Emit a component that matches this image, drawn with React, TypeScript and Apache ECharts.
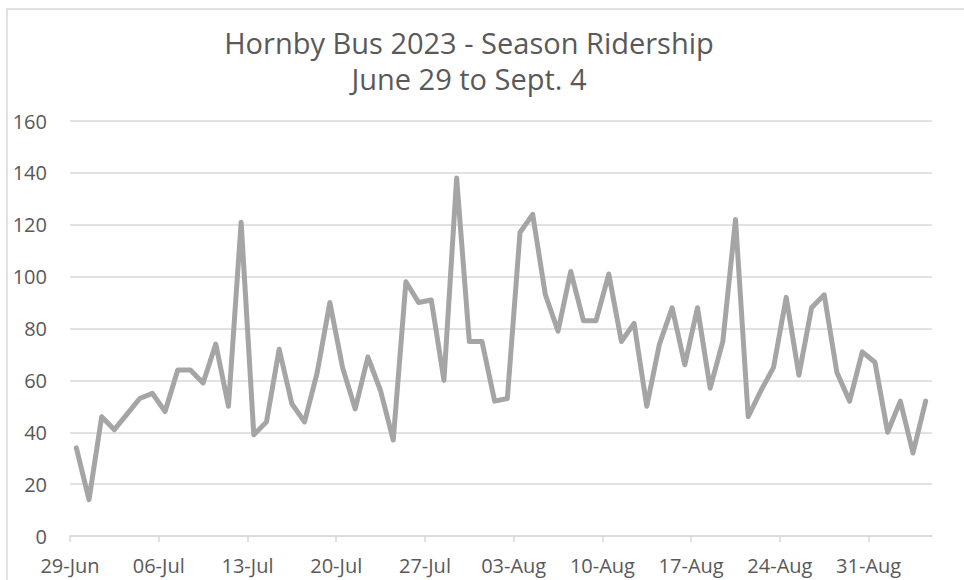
import React, { useEffect, useRef } from "react";
import * as echarts from "echarts";

const titleLines = ["Hornby Bus 2023 - Season Ridership", "June 29 to Sept. 4"];
const tickLabels = ["29-Jun", "06-Jul", "13-Jul", "20-Jul", "27-Jul", "03-Aug", "10-Aug", "17-Aug", "24-Aug", "31-Aug"];
const dayCount = 68;
const daysPerTick = 7;
const ridership = [
  34, 14, 46, 41, 47, 53, 55, 48, 64, 64, 59, 74, 50, 121, 39, 44, 72, 51,
  44, 63, 90, 65, 49, 69, 56, 37, 98, 90, 91, 60, 138, 75, 75, 52, 53, 117,
  124, 93, 79, 102, 83, 83, 101, 75, 82, 50, 74, 88, 66, 88, 57, 75, 122,
  46, 56, 65, 92, 62, 88, 93, 63, 52, 71, 67, 40, 52, 32, 52,
];

export default function App() {
  const ref = useRef<HTMLDivElement>(null);
  useEffect(() => {
    document.body.style.margin = "0";
    if (!ref.current) return;
    const chart = echarts.init(ref.current, null, { renderer: "svg" });
    const font = "'Open Sans', sans-serif";
    const tickValues = tickLabels.map((_, i) => i * daysPerTick);
    chart.setOption({
      animation: false,
      backgroundColor: "#ffffff",
      textStyle: { fontFamily: font },
      graphic: [
        {
          type: "rect",
          shape: { x: 7, y: 9, width: 980, height: 600 },
          style: { fill: "none", stroke: "#D9D9D9", lineWidth: 1.5 },
          silent: true,
        },
        {
          type: "text",
          x: 469,
          y: 42,
          style: {
            text: titleLines[0],
            fontFamily: font,
            fontSize: 29,
            fill: "#595959",
            textAlign: "center",
            textVerticalAlign: "middle",
          },
        },
        {
          type: "text",
          x: 469,
          y: 78,
          style: {
            text: titleLines[1],
            fontFamily: font,
            fontSize: 29,
            fill: "#595959",
            textAlign: "center",
            textVerticalAlign: "middle",
          },
        },
      ],
      grid: { left: 70, right: 32, top: 121, bottom: 44, containLabel: false },
      xAxis: {
        type: "value",
        min: 0,
        max: dayCount,
        interval: daysPerTick,
        axisLine: { show: true, lineStyle: { color: "#D9D9D9", width: 1.5 } },
        axisTick: { show: true, length: 6, lineStyle: { color: "#D9D9D9", width: 1.5 }, customValues: tickValues },
        axisLabel: {
          customValues: tickValues,
          formatter: (v: number) => tickLabels[Math.round(v / daysPerTick)] ?? "",
          color: "#595959",
          fontSize: 20,
          fontFamily: font,
          margin: 19,
        },
        splitLine: { show: false },
      },
      yAxis: {
        type: "value",
        min: 0,
        max: 160,
        interval: 20,
        axisLine: { show: false },
        axisTick: { show: false },
        axisLabel: { color: "#595959", fontSize: 20, fontFamily: font, margin: 23 },
        splitLine: { lineStyle: { color: "#D9D9D9", width: 1.5 } },
      },
      series: [
        {
          type: "line",
          data: ridership.map((v, i) => [i + 0.5, v]),
          symbol: "none",
          lineStyle: { color: "#A5A5A5", width: 5, join: "round", cap: "round" },
          itemStyle: { color: "#A5A5A5" },
        },
      ],
    });
    return () => chart.dispose();
  }, []);
  return <div ref={ref} style={{ width: 964, height: 580 }} />;
}
